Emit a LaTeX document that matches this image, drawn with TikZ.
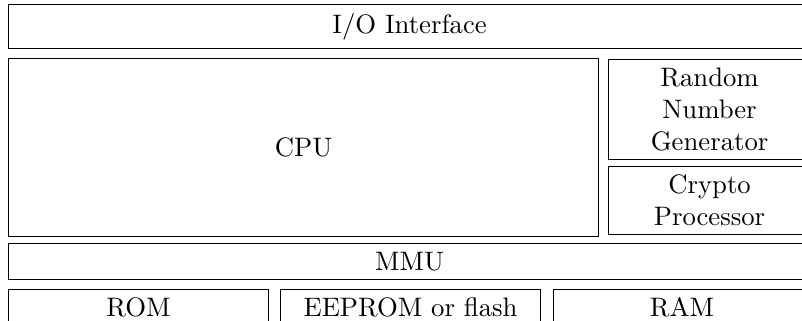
\documentclass[tikz,border=0pt]{standalone}
\usetikzlibrary{positioning}
\newcommand{\pxl}{0.3745pt}
\tikzset{
  unitbox/.style={draw, black, line width=0.4pt, inner sep=0pt, align=center, anchor=north west},
}

\begin{document}
\begin{tikzpicture}[x=0.3745pt, y=-0.3745pt]
    \clip (0,0) rectangle (802,321);

    % I/O bus on top
    \node[unitbox, minimum width=802*\pxl, minimum height=44*\pxl] (io) at (8,4) {I/O Interface};

    % Core and coprocessors
    \node[unitbox, minimum width=590*\pxl, minimum height=178*\pxl] (cpu) at (8,58) {CPU};
    \node[unitbox, minimum width=202*\pxl, minimum height=100*\pxl] (rng) at (608,59) {Random\\Number\\Generator};
    \node[unitbox, minimum width=202*\pxl, minimum height=68*\pxl] (crypto) at (608,166) {Crypto\\Processor};

    % Memory management
    \node[unitbox, minimum width=802*\pxl, minimum height=36*\pxl] (mmu) at (8,243) {MMU};

    % Memories
    \node[unitbox, minimum width=260*\pxl, minimum height=36*\pxl] (rom) at (8,289) {ROM};
    \node[unitbox, minimum width=260*\pxl, minimum height=36*\pxl] (eeprom) at (280,289) {EEPROM or flash};
    \node[unitbox, minimum width=257*\pxl, minimum height=36*\pxl] (ram) at (553,289) {RAM};
\end{tikzpicture}
\end{document}
